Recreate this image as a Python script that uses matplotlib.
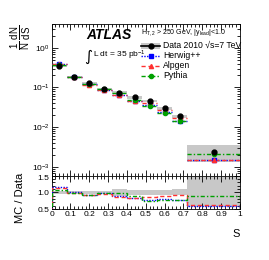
import numpy as np
import matplotlib
matplotlib.use("Agg")
import matplotlib.pyplot as plt
from matplotlib.ticker import MultipleLocator, FixedLocator, NullFormatter, LogLocator

plt.rcParams["font.family"] = ["Liberation Sans", "DejaVu Sans"]
plt.rcParams["mathtext.fontset"] = "custom"
plt.rcParams["mathtext.rm"] = "Liberation Sans"
plt.rcParams["mathtext.it"] = "Liberation Sans:italic"
plt.rcParams["mathtext.bf"] = "Liberation Sans:bold"

edges = [0.0, 0.08, 0.16, 0.24, 0.32, 0.40, 0.48, 0.56, 0.64, 0.72, 1.0]
data = [0.35, 0.186, 0.129, 0.091, 0.074, 0.056, 0.046, 0.030, 0.019, 0.0024]
data_relerr = [0.05, 0.04, 0.04, 0.05, 0.10, 0.07, 0.07, 0.08, 0.09, 0.45]
herwig = [0.40, 0.186, 0.120, 0.088, 0.066, 0.046, 0.035, 0.0243, 0.0144, 0.00144]
alpgen = [0.395, 0.184, 0.117, 0.086, 0.064, 0.046, 0.040, 0.0267, 0.0173, 0.00151]
pythia = [0.371, 0.184, 0.120, 0.090, 0.073, 0.049, 0.034, 0.0231, 0.0144, 0.00211]

edges = np.array(edges)
data = np.array(data)
relerr = np.array(data_relerr)
centers = 0.5 * (edges[:-1] + edges[1:])
widths = np.diff(edges)

fs = 6
fig = plt.figure(figsize=(2.69, 2.60), dpi=100)
L, R = 0.192, 0.892
ax = fig.add_axes([L, 0.325, R - L, 0.908 - 0.325])
rx = fig.add_axes([L, 0.196, R - L, 0.325 - 0.196], sharex=ax)

gray = "#c8c8c8"
for c, w, d, e in zip(centers, widths, data, relerr):
    ax.add_patch(plt.Rectangle((c - w / 2, d * (1 - e)), w, d * 2 * e,
                               facecolor=gray, edgecolor="none", zorder=1))
    rx.add_patch(plt.Rectangle((c - w / 2, 1 - e), w, 2 * e,
                               facecolor=gray, edgecolor="none", zorder=1))

mcs = [
    ("Herwig++", herwig, "#0000ff", (0, (1, 1)), "s"),
    ("Alpgen", alpgen, "#ff3030", (0, (3, 2)), "^"),
    ("Pythia", pythia, "#00a000", (0, (3, 1.5, 1, 1.5)), "o"),
]

for name, vals, col, ls, mk in mcs:
    vals = np.array(vals)
    ax.hlines(vals, edges[:-1], edges[1:], colors=col, linestyles=[ls], lw=1.0, zorder=3)
    ax.plot(centers, vals, ls="none", marker=mk, ms=3, color=col, zorder=4)
    ratio = vals / data
    rx.stairs(ratio, edges, color=col, ls=ls, lw=1.0, zorder=3)

ax.plot(centers, data, "o", color="black", ms=3.5, zorder=5)

ax.set_yscale("log")
ax.set_ylim(6e-4, 4)
ax.set_xlim(0, 1)
rx.set_ylim(0.5, 1.5)

for a in (ax, rx):
    a.tick_params(which="both", direction="in", top=True, right=True, labelsize=fs,
                  width=0.6, pad=1.5)
    a.tick_params(which="major", length=4)
    a.tick_params(which="minor", length=2)
    a.xaxis.set_major_locator(MultipleLocator(0.1))
    a.xaxis.set_minor_locator(MultipleLocator(0.02))
    for s in a.spines.values():
        s.set_linewidth(0.6)

ax.yaxis.set_major_locator(LogLocator(base=10, numticks=10))
ax.yaxis.set_minor_locator(LogLocator(base=10, subs=np.arange(2, 10), numticks=20))
ax.yaxis.set_minor_formatter(NullFormatter())
plt.setp(ax.get_xticklabels(), visible=False)

rx.yaxis.set_major_locator(FixedLocator([0.5, 1.0, 1.5]))
rx.yaxis.set_minor_locator(MultipleLocator(0.1))
rx.set_yticklabels(["0.5", "1.0", "1.5"])
rx.set_xticks([0, 0.1, 0.2, 0.3, 0.4, 0.5, 0.6, 0.7, 0.8, 0.9, 1.0])
rx.set_xticklabels(["0", "0.1", "0.2", "0.3", "0.4", "0.5", "0.6", "0.7", "0.8", "0.9", "1"])
for t in rx.get_yticklabels():
    if t.get_text() == "1.5":
        t.set_va("top")

fig.text(86 / 269, 1 - 35 / 260, "ATLAS", fontsize=10, fontweight="bold", style="italic",
         va="center", ha="left")
fig.text(84 / 269, 1 - 56 / 260, "\u222b", fontsize=11, va="center", ha="left",
         family=["DejaVu Sans"])
fig.text(93 / 269, 1 - 55 / 260, r"L dt = 35 pb$^{-1}$", fontsize=fs,
         va="center", ha="left")
fig.text(141 / 269, 1 - 33 / 260, r"H$_{\rm T,2}$ > 250 GeV, |y$_{\rm lead}$|<1.0",
         fontsize=5, va="center", ha="left")

leg_y = [45.7, 55.7, 65.7, 75.7]
x0, x1 = 141 / 269, 160 / 269
xt = 163 / 269
lfs = 6.2
yy = 1 - leg_y[0] / 260
fig.add_artist(plt.Rectangle((x0, yy - 3 / 260), x1 - x0, 6 / 260, transform=fig.transFigure,
                             facecolor=gray, edgecolor="none"))
fig.add_artist(plt.Line2D([x0, x1], [yy, yy], transform=fig.transFigure, color="black", lw=1.2))
fig.add_artist(plt.Line2D([(x0 + x1) / 2], [yy], transform=fig.transFigure, color="black",
                          marker="o", ms=3.5))
fig.text(xt, yy, "Data 2010 \u221as=7 TeV", fontsize=lfs, va="center", ha="left")
for (name, _, col, ls, mk), ly in zip(mcs, leg_y[1:]):
    yy = 1 - ly / 260
    fig.add_artist(plt.Line2D([x0, x1], [yy, yy], transform=fig.transFigure, color=col,
                              ls=ls, lw=1.0))
    fig.add_artist(plt.Line2D([(x0 + x1) / 2], [yy], transform=fig.transFigure, color=col,
                              marker=mk, ms=3))
    fig.text(xt, yy, name, fontsize=lfs, va="center", ha="left")

fig.text(21 / 269, 1 - 37 / 260, r"$\frac{1}{\rm N}\,\frac{\rm dN}{\rm dS}$", rotation=90,
         fontsize=10, va="center", ha="center")
fig.text(20 / 269, 1 - 198 / 260, "MC / Data", rotation=90, fontsize=8,
         va="center", ha="center")
fig.text(236 / 269, 1 - 234 / 260, "S", fontsize=8, va="center", ha="center")

fig.savefig("out.png", dpi=100)
